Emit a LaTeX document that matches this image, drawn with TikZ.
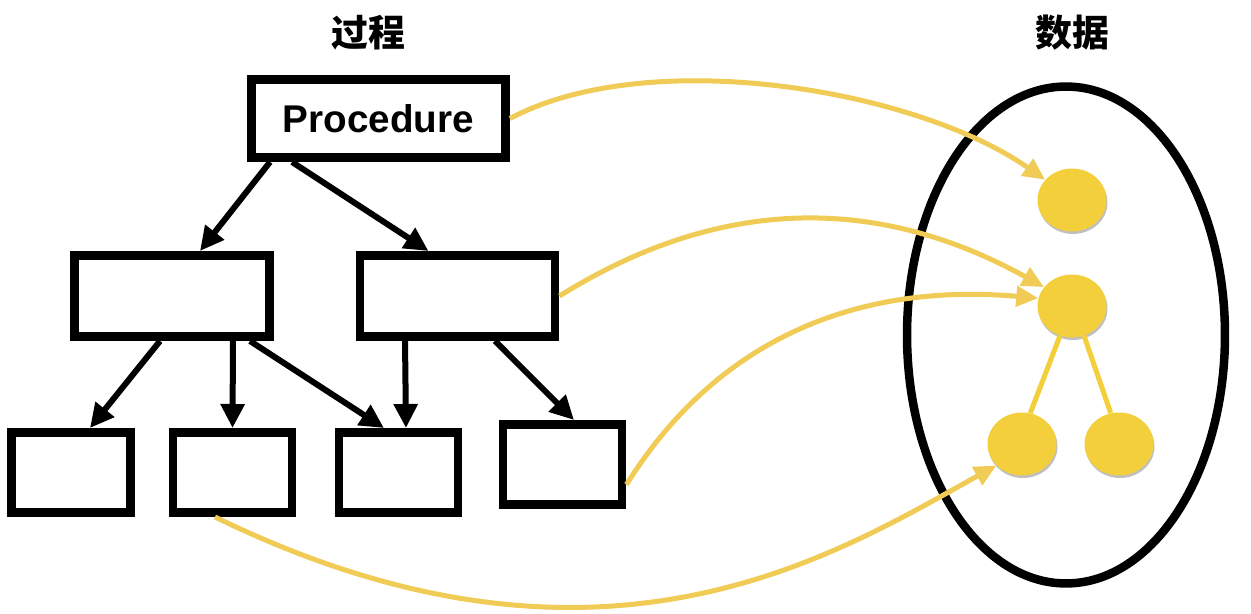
\documentclass[tikz,border=0pt]{standalone}
\usepackage{fontspec}
\setmainfont{Liberation Sans}
\newfontfamily\cjk{Noto Sans CJK SC}
\usepackage{xcolor}
\usetikzlibrary{arrows.meta,shapes.geometric,shadows}

\definecolor{dotyellow}{HTML}{F3CF3B}
\definecolor{linkyellow}{HTML}{F0CB55}

\begin{document}
\begin{tikzpicture}[
  x=0.02cm, y=-0.02cm,
  box/.style={draw, rectangle, line width=0.17cm, inner sep=0pt, minimum width=2.39cm, minimum height=1.61cm},
  wide/.style={box, minimum width=3.91cm, minimum height=1.63cm},
  dot/.style={ellipse, fill=dotyellow, inner sep=0pt, minimum width=1.38cm, minimum height=1.26cm,
    drop shadow={shadow xshift=0.02cm, shadow yshift=-0.05cm, opacity=0.25, fill=black}},
  call/.style={-{Triangle[length=0.48cm,width=0.46cm]}, line width=0.12cm},
  link/.style={-{Triangle[length=0.44cm,width=0.4cm]}, draw=linkyellow, line width=0.1cm},
  title/.style={font=\cjk\bfseries\fontsize{21}{21}\selectfont}
]
\useasboundingbox (0,0) rectangle (1251,614);

% titles
\node[title] (tproc) at (368,33) {过程};
\node[title] (tdata) at (1072,33) {数据};

% procedure tree
\node[box, minimum width=5.09cm, minimum height=1.57cm, font=\bfseries\fontsize{22}{22}\selectfont] (proc) at (378.5,118.5) {Procedure};
\node[wide] (subl) at (172,296) {};
\node[wide] (subr) at (457.5,296) {};
\node[box] (leaf1) at (71,472.5) {};
\node[box] (leaf2) at (232.5,472.5) {};
\node[box] (leaf3) at (398.5,472.5) {};
\node[box] (leaf4) at (562.5,464.5) {};

\draw[call] ([xshift=-2.17cm]proc.south) -- ([xshift=0.56cm]subl.north);
\draw[call] ([xshift=-1.73cm]proc.south) -- ([xshift=-0.58cm]subr.north);
\draw[call] ([xshift=-0.24cm]subl.south) -- ([xshift=0.38cm]leaf1.north);
\draw[call] ([xshift=1.22cm]subl.south) -- (leaf2.north);
\draw[call] ([xshift=1.56cm]subl.south) -- ([xshift=-0.29cm]leaf3.north);
\draw[call] ([xshift=-1.05cm]subr.south) -- ([xshift=0.15cm]leaf3.north);
\draw[call] ([xshift=0.75cm]subr.south) -- ([xshift=0.23cm]leaf4.north);

% data
\node[draw, ellipse, line width=0.17cm, inner sep=0pt, minimum width=6.36cm, minimum height=9.94cm] (data) at (1066,335) {};
\node[dot] (d1) at (1072,200) {};
\node[dot] (d2) at (1072,306) {};
\node[dot] (d3) at (1022,444) {};
\node[dot] (d4) at (1119,444) {};
\draw[dotyellow, line width=0.1cm] (d2.248) -- (d3.75);
\draw[dotyellow, line width=0.1cm] (d2.292) -- (d4.105);

% references
\draw[link] (proc.east) to[out=28, in=145, looseness=0.75] (d1.143);
\draw[link] (subr.east) to[out=32, in=151] (d2.146);
\draw[link] ([yshift=-0.4cm]leaf4.east) to[out=58, in=175] (d2.167);
\draw[link] ([xshift=-0.35cm]leaf2.south) to[out=-26, in=209, out looseness=1.4, in looseness=0.6] (d3.220);
\end{tikzpicture}
\end{document}
